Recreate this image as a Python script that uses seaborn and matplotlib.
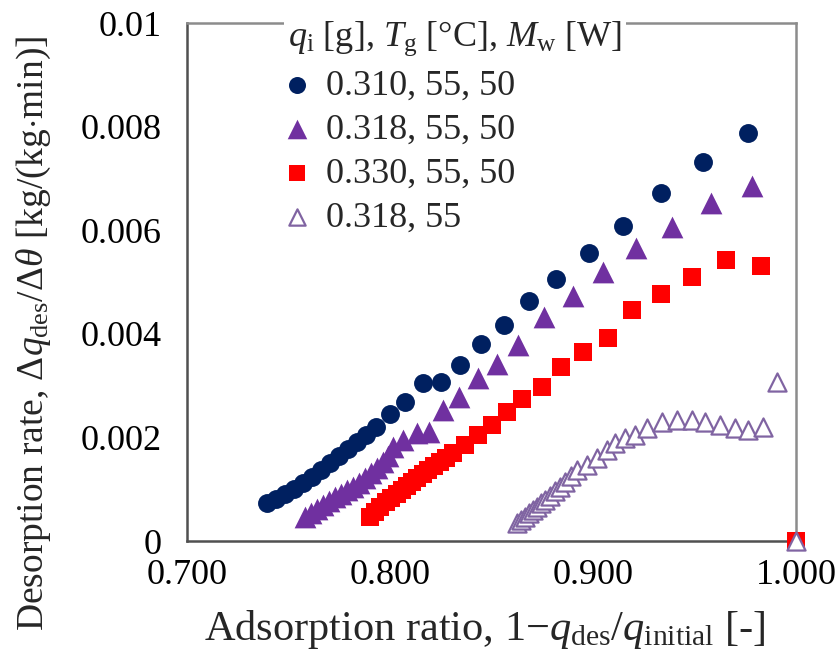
import matplotlib
matplotlib.use("Agg")
import matplotlib.pyplot as plt
import seaborn as sns
import pandas as pd

# Adsorption ratio (x) and desorption rate (y) for each run
ratio_310 = [0.7394, 0.7438, 0.7483, 0.7527, 0.7571, 0.7616, 0.7660, 0.7704, 0.7749,
             0.7793, 0.7837, 0.7882, 0.7931, 0.8000, 0.8074, 0.8163, 0.8251, 0.8345,
             0.8448, 0.8562, 0.8685, 0.8818, 0.8980, 0.9148, 0.9335, 0.9542, 0.9764]
rate_310 = [0.000734, 0.000811, 0.000907, 0.001004, 0.001120, 0.001236, 0.001371,
            0.001506, 0.001641, 0.001776, 0.001911, 0.002046, 0.002201, 0.002452,
            0.002683, 0.003050, 0.003069, 0.003398, 0.003803, 0.004170, 0.004633,
            0.005058, 0.005560, 0.006081, 0.006718, 0.007317, 0.007876]

ratio_318 = [0.7581, 0.7611, 0.7640, 0.7670, 0.7700, 0.7729, 0.7759, 0.7788, 0.7818,
             0.7847, 0.7877, 0.7906, 0.7936, 0.7966, 0.7990, 0.8015, 0.8064, 0.8133,
             0.8192, 0.8261, 0.8340, 0.8433, 0.8527, 0.8631, 0.8759, 0.8901, 0.9049,
             0.9212, 0.9389, 0.9581, 0.9783]
rate_318 = [0.000463, 0.000541, 0.000618, 0.000695, 0.000772, 0.000849, 0.000907,
            0.000985, 0.001042, 0.001120, 0.001216, 0.001313, 0.001409, 0.001525,
            0.001641, 0.001815, 0.001950, 0.002085, 0.002104, 0.002529, 0.002780,
            0.003147, 0.003417, 0.003784, 0.004324, 0.004730, 0.005193, 0.005656,
            0.006062, 0.006525, 0.006853]

ratio_330 = [0.7901, 0.7926, 0.7951, 0.7980, 0.8005, 0.8034, 0.8059, 0.8084, 0.8108,
             0.8133, 0.8163, 0.8187, 0.8217, 0.8246, 0.8276, 0.8310, 0.8369, 0.8433,
             0.8502, 0.8576, 0.8650, 0.8749, 0.8842, 0.8951, 0.9074, 0.9192, 0.9335,
             0.9488, 0.9655, 0.9828, 1.0000]
rate_330 = [0.000463, 0.000560, 0.000656, 0.000753, 0.000830, 0.000907, 0.000985,
            0.001062, 0.001139, 0.001216, 0.001293, 0.001371, 0.001448, 0.001525,
            0.001602, 0.001699, 0.001853, 0.002046, 0.002239, 0.002490, 0.002741,
            0.002973, 0.003359, 0.003649, 0.003919, 0.004459, 0.004768, 0.005097,
            0.005425, 0.005309, 0.0]

ratio_318_nomw = [0.8626, 0.8645, 0.8665, 0.8685, 0.8704, 0.8724, 0.8744, 0.8764,
                  0.8788, 0.8813, 0.8837, 0.8862, 0.8892, 0.8921, 0.8970, 0.9020,
                  0.9069, 0.9108, 0.9158, 0.9207, 0.9266, 0.9340, 0.9414, 0.9488,
                  0.9552, 0.9626, 0.9700, 0.9764, 0.9837, 0.9906, 1.0000]
rate_318_nomw = [0.000347, 0.000405, 0.000473, 0.000541, 0.000598, 0.000666, 0.000734,
                 0.000801, 0.000878, 0.000956, 0.001042, 0.001139, 0.001255, 0.001371,
                 0.001467, 0.001602, 0.001757, 0.001892, 0.001988, 0.002046, 0.002181,
                 0.002297, 0.002336, 0.002336, 0.002297, 0.002239, 0.002181, 0.002143,
                 0.002201, 0.003069, 0.0]

series_labels = ["0.310, 55, 50", "0.318, 55, 50", "0.330, 55, 50", "0.318, 55"]
x_ticks = [0.7, 0.8, 0.9, 1.0]
x_tick_labels = ["0.700", "0.800", "0.900", "1.000"]
y_ticks = [0, 0.002, 0.004, 0.006, 0.008, 0.01]
y_tick_labels = ["0", "0.002", "0.004", "0.006", "0.008", "0.01"]

sns.set_theme(style="white")
plt.rcParams["font.family"] = ["Liberation Serif", "DejaVu Serif"]
plt.rcParams["mathtext.fontset"] = "custom"
plt.rcParams["mathtext.rm"] = "Liberation Serif"
plt.rcParams["mathtext.it"] = "Liberation Serif:italic"
plt.rcParams["mathtext.bf"] = "Liberation Serif:bold"

fig = plt.figure(figsize=(8.39, 6.63), dpi=100)
ax = fig.add_axes([0.2229, 0.184, 0.7259, 0.7813])

styles = [
    dict(marker="o", s=185, color="#002060", linewidth=0),
    dict(marker="^", s=245, color="#7030A0", linewidth=0),
    dict(marker="s", s=175, color="#FF0000", linewidth=0),
    dict(marker="^", s=170, facecolor="white", edgecolor="#8064A2", linewidth=1.6),
]
xs = [ratio_310, ratio_318, ratio_330, ratio_318_nomw]
ys = [rate_310, rate_318, rate_330, rate_318_nomw]

for i, (xv, yv, lab, st) in enumerate(zip(xs, ys, series_labels, styles)):
    df = pd.DataFrame({"ratio": xv, "rate": yv})
    sns.scatterplot(data=df, x="ratio", y="rate", ax=ax, label=lab,
                    legend=False, clip_on=False, zorder=3 + i, **st)

ax.set_xlim(0.7, 1.0)
ax.set_ylim(0, 0.01)
ax.set_xticks(x_ticks)
ax.set_xticklabels(x_tick_labels)
ax.set_yticks(y_ticks)
ax.set_yticklabels(y_tick_labels)
ax.tick_params(axis="both", direction="in", length=7, width=1.5, color="#404040",
               labelsize=26, labelcolor="black")
ax.tick_params(axis="x", pad=13)
ax.tick_params(axis="y", pad=18)

for side in ["left", "bottom"]:
    ax.spines[side].set_color("#505050")
    ax.spines[side].set_linewidth(1.8)
for side in ["right", "top"]:
    ax.spines[side].set_color("#8c8c8c")
    ax.spines[side].set_linewidth(1.8)

ax.set_xlabel(r"Adsorption ratio, 1$-$$q_{\mathrm{des}}$/$q_{\mathrm{initial}}$ [-]",
              fontsize=30.5)
ax.set_ylabel(r"Desorption rate, $\Delta q_{\mathrm{des}}/\Delta \theta$ [kg/(kg$\cdot$min)]",
              fontsize=27)
ax.xaxis.set_label_coords(0.489, -0.17)
ax.xaxis.label.set_va("center")
ax.yaxis.set_label_coords(-0.252, 0.40)
ax.yaxis.label.set_va("center")

handles, labels = ax.get_legend_handles_labels()
leg = ax.legend(handles, labels,
                title=r"$q_{\mathrm{i}}$ [g], $T_{\mathrm{g}}$ [°C], $M_{\mathrm{w}}$ [W]",
                loc="upper left", bbox_to_anchor=(0.160, 1.013), borderaxespad=0,
                fontsize=26, title_fontsize=26, frameon=True, fancybox=False,
                facecolor="white", edgecolor="none", framealpha=1,
                borderpad=0.1, labelspacing=0.3, handletextpad=0.55,
                handlelength=0.5, markerscale=0.9, alignment="left")
# keep the legend panel over the frame line but under the data markers
leg.set_zorder(2.6)

fig.savefig("out.png", dpi=100)
